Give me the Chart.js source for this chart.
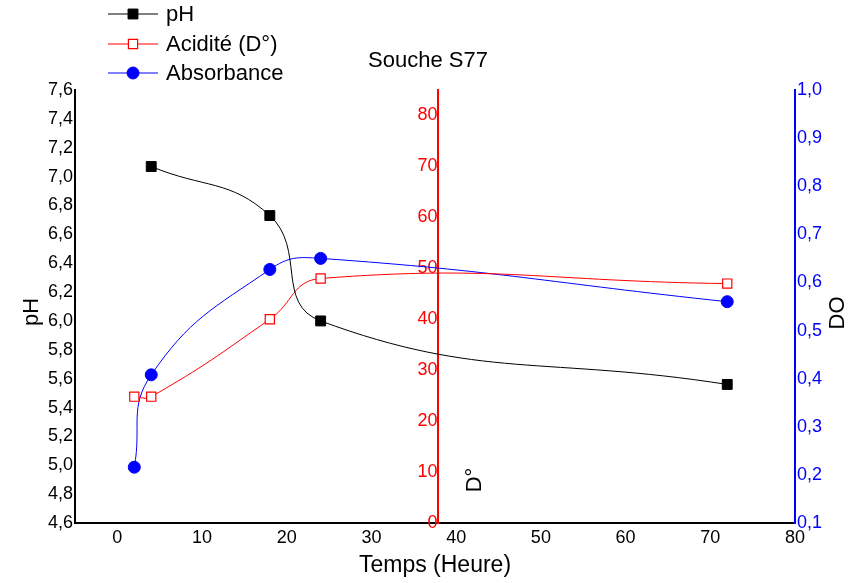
<!DOCTYPE html>
<html>
<head>
<meta charset="utf-8">
<script src="https://cdn.jsdelivr.net/npm/chart.js@4/dist/chart.umd.min.js"></script>
<style>
  html, body { margin: 0; padding: 0; background: #fff; }
  #wrap { width: 863px; height: 583px; }
</style>
</head>
<body>
<div id="wrap"><canvas id="souche"></canvas></div>
<script>
// values
const timePH = [4, 18, 24, 72];
const phValues = [7.07, 6.73, 6.0, 5.56];
const timeAcid = [2, 4, 18, 24, 72];
const acidValues = [24.8, 24.8, 40, 48, 47];
const timeAbs = [2, 4, 18, 24, 72];
const absValues = [0.216, 0.408, 0.627, 0.65, 0.56];

const xRange = [-5, 80];
const phRange = [4.6, 7.6];
const acidRange = [0, 85];
const doRange = [0.1, 1.0];
const acidAxisAt = 37.8;

const seriesNames = ['pH', 'Acidité (D°)', 'Absorbance'];
const chartTitle = 'Souche S77';
const xTitle = 'Temps (Heure)';

const FONT = 'Arial, "Liberation Sans", sans-serif';
const comma = (v, d) => Number(v).toFixed(d).replace('.', ',');
const toPoints = (xs, ys) => xs.map((x, i) => ({ x: x, y: ys[i] }));

// titles, legend and rotated axis names
const decorations = {
  id: 'decorations',
  afterDraw(chart) {
    const ctx = chart.ctx;
    ctx.save();
    ctx.fillStyle = '#000';
    ctx.textBaseline = 'middle';

    // legend
    const rows = [14, 44, 73];
    chart.data.datasets.forEach((ds, i) => {
      const y = rows[i];
      ctx.strokeStyle = ds.borderColor;
      ctx.lineWidth = 1;
      ctx.beginPath();
      ctx.moveTo(108, y);
      ctx.lineTo(158, y);
      ctx.stroke();
      ctx.fillStyle = ds.pointBackgroundColor;
      ctx.strokeStyle = ds.pointBorderColor;
      ctx.lineWidth = ds.pointBorderWidth;
      Chart.helpers.drawPoint(ctx, {
        pointStyle: ds.pointStyle, radius: ds.pointRadius, borderWidth: ds.pointBorderWidth
      }, 133, y);
      ctx.fillStyle = '#000';
      ctx.font = '22px ' + FONT;
      ctx.textAlign = 'left';
      ctx.fillText(seriesNames[i], 166, y + 1);
    });

    // chart title
    ctx.font = '22px ' + FONT;
    ctx.textAlign = 'center';
    ctx.fillText(chartTitle, 428, 61);

    // x title
    ctx.font = '23px ' + FONT;
    ctx.fillText(xTitle, 435, 566);

    // rotated titles
    const vert = (txt, x, y) => {
      ctx.save();
      ctx.translate(x, y);
      ctx.rotate(-Math.PI / 2);
      ctx.textAlign = 'center';
      ctx.fillText(txt, 0, 0);
      ctx.restore();
    };
    ctx.font = '22px ' + FONT;
    vert('pH', 32, 312);
    vert('DO', 838, 313);
    vert('D°', 475, 480);
    ctx.restore();
  }
};

const ctx = document.getElementById('souche').getContext('2d');
const chart = new Chart(ctx, {
  type: 'line',
  data: {
    datasets: [{
      label: seriesNames[0],
      data: toPoints(timePH, phValues),
      yAxisID: 'yPH',
      borderColor: '#000000',
      borderWidth: 1,
      pointStyle: 'rect',
      pointRadius: 7,
      pointBackgroundColor: '#000000',
      pointBorderColor: '#000000',
      pointBorderWidth: 1,
      tension: 0.45,
      fill: false
    }, {
      label: seriesNames[1],
      data: toPoints(timeAcid, acidValues),
      yAxisID: 'yAcid',
      borderColor: '#ff0000',
      borderWidth: 1,
      pointStyle: 'rect',
      pointRadius: 6.5,
      pointBackgroundColor: '#ffffff',
      pointBorderColor: '#ff0000',
      pointBorderWidth: 1.2,
      tension: 0.45,
      fill: false
    }, {
      label: seriesNames[2],
      data: toPoints(timeAbs, absValues),
      yAxisID: 'yDO',
      borderColor: '#0000ff',
      borderWidth: 1,
      pointStyle: 'circle',
      pointRadius: 6,
      pointBackgroundColor: '#0000ff',
      pointBorderColor: '#0000ff',
      pointBorderWidth: 1,
      tension: 0.45,
      fill: false
    }]
  },
  options: {
    responsive: true,
    maintainAspectRatio: false,
    animation: false,
    layout: { padding: { top: 90, left: 0, right: 0, bottom: 0 } },
    plugins: {
      legend: { display: false },
      title: { display: false },
      tooltip: { enabled: false }
    },
    scales: {
      x: {
        type: 'linear',
        position: 'bottom',
        min: xRange[0],
        max: xRange[1],
        ticks: {
          stepSize: 10,
          color: '#000',
          padding: 4,
          maxRotation: 0,
          font: { size: 18, family: FONT },
          callback: v => (v % 10 === 0 ? v : '')
        },
        grid: { drawOnChartArea: false, drawTicks: false },
        border: { color: '#000', width: 2 },
        afterFit: s => { s.height = 60; }
      },
      yPH: {
        type: 'linear',
        position: 'left',
        min: phRange[0],
        max: phRange[1],
        ticks: {
          stepSize: 0.2,
          color: '#000',
          padding: 2,
          font: { size: 18, family: FONT },
          callback: v => comma(v, 1)
        },
        grid: { drawOnChartArea: false, drawTicks: false },
        border: { color: '#000', width: 2 },
        afterFit: s => { s.width = 75; }
      },
      yDO: {
        type: 'linear',
        position: 'right',
        min: doRange[0],
        max: doRange[1],
        ticks: {
          stepSize: 0.1,
          color: '#0000ff',
          padding: 2,
          font: { size: 18, family: FONT },
          callback: v => comma(v, 1)
        },
        grid: { drawOnChartArea: false, drawTicks: false },
        border: { color: '#0000ff', width: 2 },
        afterFit: s => { s.width = 68; }
      },
      yAcid: {
        type: 'linear',
        position: { x: acidAxisAt },
        min: acidRange[0],
        max: acidRange[1],
        ticks: {
          stepSize: 10,
          color: '#ff0000',
          padding: 2,
          font: { size: 18, family: FONT },
          callback: v => (v % 10 === 0 ? v : '')
        },
        grid: { drawOnChartArea: false, drawTicks: false },
        border: { color: '#ff0000', width: 2 }
      }
    }
  },
  plugins: [decorations]
});
</script>
</body>
</html>
